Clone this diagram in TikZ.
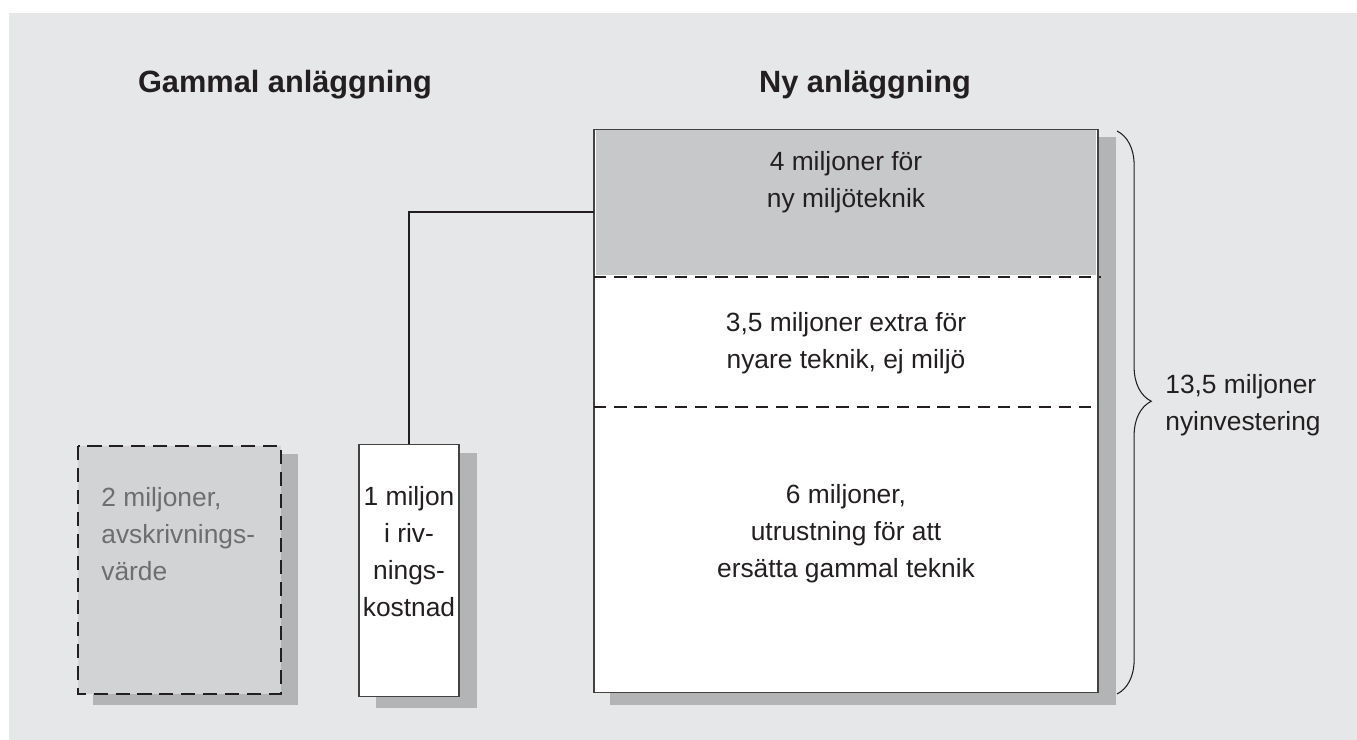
\documentclass[tikz,border=0pt]{standalone}
\usepackage{fontspec}
\setmainfont{Liberation Sans}
\usetikzlibrary{decorations.pathreplacing}

\definecolor{panelgray}{HTML}{E6E7E8}
\definecolor{shadowgray}{HTML}{B3B4B6}
\definecolor{topgray}{HTML}{C7C8CA}
\definecolor{oldgray}{HTML}{D2D3D5}
\definecolor{oldtext}{HTML}{6D6E70}
\definecolor{inkblack}{HTML}{231F20}

\begin{document}
\begin{tikzpicture}[x=0.02cm, y=-0.02cm,
    heading/.style={font=\fontsize{17.5pt}{21pt}\selectfont\bfseries, text=inkblack, inner sep=0pt},
    amount/.style={font=\fontsize{15pt}{21pt}\selectfont, text=inkblack, align=center, inner sep=0pt},
    dropshadow/.style={fill=shadowgray},
    frame/.style={draw=inkblack!85, line width=0.8pt},
    cutline/.style={draw=inkblack, line width=1.1pt, dash pattern=on 7pt off 4.5pt}]

    \useasboundingbox (0,0) rectangle (1357,740);

    \fill[panelgray] (9,13) rectangle (1357,740);



    \node[heading, anchor=base] (gammal) at (285,93) {Gammal anläggning};

    \node[heading, anchor=base] (ny) at (865,93) {Ny anläggning};



    \begin{scope}

      \fill[dropshadow] (93,454) rectangle (298,705);

      \draw[fill=oldgray, draw=inkblack, line width=0.8pt, dash pattern=on 8pt off 4.5pt] (78,446) rectangle (281,694);

      \node[amount, text=oldtext, align=left, anchor=north west] (avskrivning) at (101,487) {2 miljoner,\\avskrivnings-\\värde};

    \end{scope}



    \begin{scope}

      \fill[dropshadow] (376,453) rectangle (477,708);

      \node[frame, fill=white, minimum width=56.7pt, minimum height=143.4pt, inner sep=0pt] (rivbox) at (409,570.5) {};

      \node[amount, anchor=north] (rivning) at (409,486) {1 miljon\\i riv-\\nings-\\kostnad};

    \end{scope}



    \begin{scope}

      \fill[dropshadow] (610,137) rectangle (1116,705);

      \node[frame, fill=white, minimum width=286.9pt, minimum height=320.4pt, inner sep=0pt] (nybox) at (846,411) {};

      \fill[topgray] (596,130) rectangle (1096,275);

      \draw[cutline] (594,277) -- (1101,277);

      \draw[cutline] (594,407) -- (1098,407);

      \node[amount, anchor=north] (miljo) at (846,151) {4 miljoner för\\ny miljöteknik};

      \node[amount, anchor=north] (extra) at (846,312) {3,5 miljoner extra för\\nyare teknik, ej miljö};

      \node[amount, anchor=north] (ersatt) at (846,484) {6 miljoner,\\utrustning för att\\ersätta gammal teknik};

    \end{scope}



    \coordinate (koppling) at (594,212);

    \draw[inkblack, line width=0.6pt] (rivbox.north) |- (koppling);



    \draw[inkblack, line width=0.6pt, decorate, decoration={brace, amplitude=19.5pt, aspect=0.48}] (1117,131) -- (1117,694);

    \node[amount, align=left, anchor=north west] (summa) at (1165,374) {13,5 miljoner\\nyinvestering};

  \end{tikzpicture}
\end{document}
